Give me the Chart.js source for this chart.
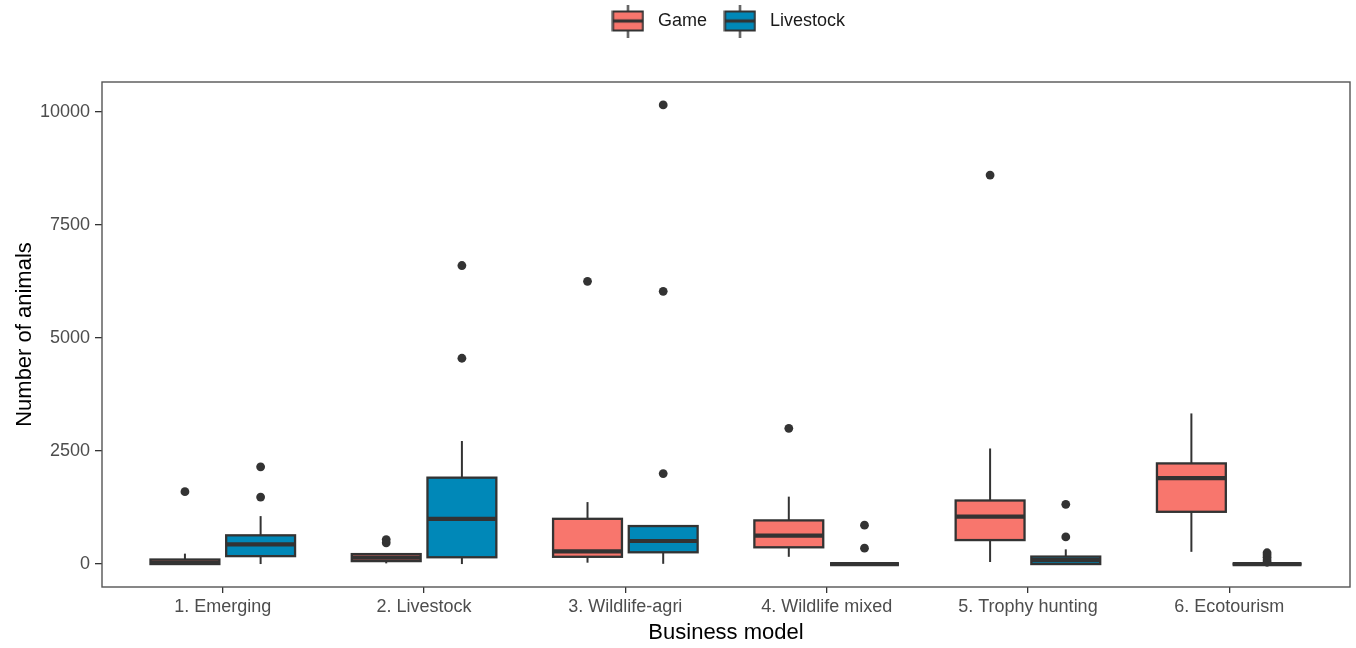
<!DOCTYPE html>
<html>
<head>
<meta charset="utf-8">
<title>Number of animals by business model</title>
<script src="https://cdn.jsdelivr.net/npm/chart.js@4.4.1/dist/chart.umd.min.js"></script>
<style>
  html, body { margin: 0; padding: 0; background: #ffffff; }
  #wrap { position: relative; width: 1356px; height: 648px; }
</style>
</head>
<body>
<div id="wrap"><canvas id="chart"></canvas></div>
<script>
// Business models on the x axis
const categories = ['1. Emerging', '2. Livestock', '3. Wildlife-agri', '4. Wildlife mixed', '5. Trophy hunting', '6. Ecotourism'];

// Game: five-number summaries per business model
const gameLow    = [0,   15,  30,   160,  45,   270];
const gameQ1     = [0,   65,  160,  370,  530,  1155];
const gameMedian = [30,  140, 280,  630,  1050, 1900];
const gameQ3     = [100, 220, 1000, 965,  1405, 2225];
const gameHigh   = [230, 240, 1370, 1490, 2555, 3330];
const gameOutliers = [[1600], [470, 540], [6250], [3000], [8600], []];

// Livestock: five-number summaries per business model
const livestockLow    = [0,    0,    5,   0, 0,   0];
const livestockQ1     = [175,  150,  260, 0, 0,   0];
const livestockMedian = [435,  1000, 510, 0, 85,  0];
const livestockQ3     = [635,  1910, 840, 0, 165, 0];
const livestockHigh   = [1060, 2720, 840, 0, 325, 0];
const livestockOutliers = [[1480, 2150], [4550, 6600], [2000, 6030, 10150], [350, 860], [600, 1320], [40, 90, 150, 200, 250]];

// Y axis tick values
const yTicks = [0, 2500, 5000, 7500, 10000];

const GAME_FILL = '#F8766D';
const LIVESTOCK_FILL = '#0088B8';
const INK = '#333333';
const FONT = "'Liberation Sans', Arial, sans-serif";

// Value range with 5% expansion on both ends
const allValues = [].concat(gameLow, gameHigh, livestockLow, livestockHigh, gameOutliers.flat(), livestockOutliers.flat());
const vMin = Math.min(...allValues), vMax = Math.max(...allValues);
const vPad = (vMax - vMin) * 0.05;

function seriesStats(low, q1, median, q3, high, outliers) {
  return { low, q1, median, q3, high, outliers };
}

// Small boxplot glyph used as the legend key
function legendGlyph(fill) {
  const c = document.createElement('canvas');
  c.width = 33; c.height = 33;
  const g = c.getContext('2d');
  g.strokeStyle = INK;
  g.lineWidth = 2;
  g.beginPath(); g.moveTo(16.5, 0); g.lineTo(16.5, 33); g.stroke();
  g.fillStyle = fill;
  g.fillRect(1.5, 7, 30, 19);
  g.strokeRect(1.5, 7, 30, 19);
  g.lineWidth = 3.2;
  g.beginPath(); g.moveTo(1.5, 16.5); g.lineTo(31.5, 16.5); g.stroke();
  return c;
}

// Whiskers, box outlines, medians, outliers and the panel frame
const boxPlotMarks = {
  id: 'boxPlotMarks',
  afterDatasetsDraw(chart) {
    const ctx = chart.ctx;
    const ys = chart.scales.y;
    const area = chart.chartArea;
    const line = (x1, y1, x2, y2) => { ctx.beginPath(); ctx.moveTo(x1, y1); ctx.lineTo(x2, y2); ctx.stroke(); };
    ctx.save();
    ctx.beginPath();
    ctx.rect(area.left, area.top, area.right - area.left, area.bottom - area.top);
    ctx.clip();
    chart.data.datasets.forEach((ds, i) => {
      const meta = chart.getDatasetMeta(i);
      const s = ds.stats;
      meta.data.forEach((bar, j) => {
        const cx = bar.x, half = bar.width / 2;
        const pLow = ys.getPixelForValue(s.low[j]);
        const pQ1 = ys.getPixelForValue(s.q1[j]);
        const pMed = ys.getPixelForValue(s.median[j]);
        const pQ3 = ys.getPixelForValue(s.q3[j]);
        const pHigh = ys.getPixelForValue(s.high[j]);
        ctx.strokeStyle = INK;
        ctx.lineWidth = 2;
        line(cx, pQ3, cx, pHigh);
        line(cx, pQ1, cx, pLow);
        ctx.lineWidth = 2.3;
        ctx.strokeRect(cx - half, pQ3, half * 2, pQ1 - pQ3);
        ctx.lineWidth = 4.2;
        line(cx - half, pMed, cx + half, pMed);
        ctx.fillStyle = INK;
        s.outliers[j].forEach(v => {
          ctx.beginPath();
          ctx.arc(cx, ys.getPixelForValue(v), 4.4, 0, Math.PI * 2);
          ctx.fill();
        });
      });
    });
    ctx.restore();
    ctx.save();
    ctx.strokeStyle = '#555555';
    ctx.lineWidth = 1.4;
    ctx.strokeRect(area.left, area.top, area.right - area.left, area.bottom - area.top);
    ctx.restore();
  }
};

const datasets = [
  {
    label: 'Game',
    data: categories.map((c, j) => ({ x: j + 1, y: [gameQ1[j], gameQ3[j]] })),
    backgroundColor: GAME_FILL,
    borderWidth: 0,
    stats: seriesStats(gameLow, gameQ1, gameMedian, gameQ3, gameHigh, gameOutliers),
    glyph: legendGlyph(GAME_FILL)
  },
  {
    label: 'Livestock',
    data: categories.map((c, j) => ({ x: j + 1, y: [livestockQ1[j], livestockQ3[j]] })),
    backgroundColor: LIVESTOCK_FILL,
    borderWidth: 0,
    stats: seriesStats(livestockLow, livestockQ1, livestockMedian, livestockQ3, livestockHigh, livestockOutliers),
    glyph: legendGlyph(LIVESTOCK_FILL)
  }
];

new Chart(document.getElementById('chart'), {
  type: 'bar',
  data: { datasets },
  plugins: [boxPlotMarks],
  options: {
    responsive: true,
    maintainAspectRatio: false,
    animation: false,
    categoryPercentage: 0.752,
    barPercentage: 0.91,
    layout: { padding: { left: 0, right: 6, top: 0, bottom: 0 } },
    plugins: {
      tooltip: { enabled: false },
      legend: {
        position: 'top',
        align: 'center',
        fullSize: false,
        weight: 3000,
        labels: {
          usePointStyle: true,
          pointStyleWidth: 42,
          padding: 12,
          color: '#1a1a1a',
          font: { family: FONT, size: 18 },
          generateLabels(chart) {
            return chart.data.datasets.map((ds, i) => ({
              text: ds.label,
              pointStyle: ds.glyph,
              fillStyle: ds.backgroundColor,
              strokeStyle: INK,
              lineWidth: 0,
              hidden: false,
              datasetIndex: i,
              fontColor: '#1a1a1a'
            }));
          }
        }
      },
      title: {
        display: true,
        text: '',
        position: 'top',
        fullSize: false,
        weight: 500,
        font: { size: 10 },
        padding: { top: 0, bottom: 30 }
      }
    },
    scales: {
      x: {
        type: 'linear',
        min: 0.4,
        max: 6.6,
        offset: false,
        afterBuildTicks(scale) { scale.ticks = categories.map((c, j) => ({ value: j + 1 })); },
        afterFit(scale) { scale.height = 61; },
        grid: { display: true, drawOnChartArea: false, drawTicks: true, offset: false, tickLength: 6, color: INK, lineWidth: 1.3 },
        border: { display: false },
        ticks: {
          autoSkip: false,
          maxRotation: 0,
          padding: 3,
          color: '#4D4D4D',
          font: { family: FONT, size: 18 },
          callback(value, index) { return categories[index]; }
        },
        title: {
          display: true,
          text: 'Business model',
          color: '#000000',
          font: { family: FONT, size: 22 },
          padding: { top: 0, bottom: 2 }
        }
      },
      y: {
        type: 'linear',
        min: vMin - vPad,
        max: vMax + vPad,
        afterBuildTicks(scale) { scale.ticks = yTicks.map(v => ({ value: v })); },
        afterFit(scale) { scale.width = 102; },
        grid: { display: true, drawOnChartArea: false, drawTicks: true, tickLength: 7, color: INK, lineWidth: 1.3 },
        border: { display: false },
        ticks: {
          padding: 5,
          color: '#4D4D4D',
          font: { family: FONT, size: 18 },
          callback(value) { return String(value); }
        },
        title: {
          display: true,
          text: 'Number of animals',
          color: '#000000',
          font: { family: FONT, size: 22 },
          padding: { top: 12, bottom: 0 }
        }
      }
    }
  }
});
</script>
</body>
</html>
